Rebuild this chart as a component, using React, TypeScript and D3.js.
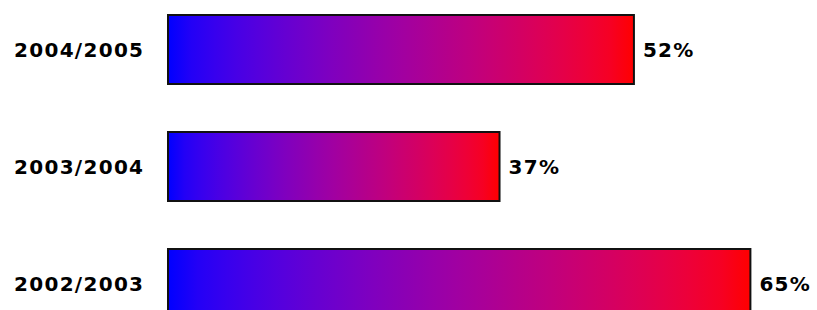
import * as d3 from 'd3'

const CATEGORIES = ['2004/2005', '2003/2004', '2002/2003']
const VALUES = [52, 37, 65]
const VALUE_LABELS = ['52%', '37%', '65%']

const W = 817
const H = 310
const LEFT = 168

// blue -> red, blended with a mild gamma so the middle stays a bright purple
const gradColor = d3.interpolateRgb.gamma(1.5)('#0000ff', '#ff0000')
const stops = d3.range(0, 1.0001, 0.05)

export default function App() {
  const x = d3.scaleLinear().domain([0, 100]).range([LEFT, LEFT + 896])
  const y = d3.scaleBand().domain(CATEGORIES).range([14, 319]).paddingInner(46 / 117).paddingOuter(0)

  const font = {
    fontFamily: '"DejaVu Sans", Verdana, sans-serif',
    fontWeight: 700,
    fontSize: 20,
    letterSpacing: '1.3px',
    fill: '#000',
  }

  return (
    <div style={{ position: 'fixed', left: 0, top: 0, width: W, height: H, background: '#fff' }}>
      <svg width={W} height={H} style={{ display: 'block' }}>
        <defs>
          <linearGradient id="barGrad" x1="0" y1="0" x2="1" y2="0">
            {stops.map((t) => (
              <stop key={t} offset={`${t * 100}%`} stopColor={gradColor(t)} />
            ))}
          </linearGradient>
        </defs>
        {CATEGORIES.map((c, i) => {
          const y0 = y(c) ?? 0
          const bh = y.bandwidth()
          const cy = y0 + bh / 2
          return (
            <g key={c}>
              <text x={14} y={cy} dy="0.35em" style={font}>
                {c}
              </text>
              <rect
                x={x(0)}
                y={y0 + 1}
                width={x(VALUES[i]) - x(0)}
                height={bh - 2}
                fill="url(#barGrad)"
                stroke="#111"
                strokeWidth={2}
              />
              <text x={x(VALUES[i]) + 9} y={cy} dy="0.35em" style={font}>
                {VALUE_LABELS[i]}
              </text>
            </g>
          )
        })}
      </svg>
    </div>
  )
}
